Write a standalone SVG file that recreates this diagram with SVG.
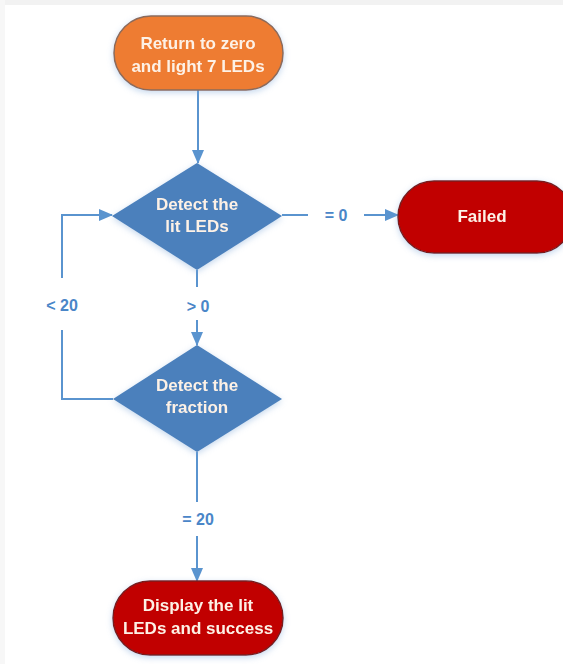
<svg xmlns="http://www.w3.org/2000/svg" width="563" height="664" viewBox="0 0 563 664">
<style>
.conn{fill:none;stroke:#5a94cf;stroke-width:2}
.lbl{font-family:"Liberation Sans",Arial,sans-serif;font-weight:bold;font-size:16px;fill:#4a86c8;text-anchor:middle}
.txt{font-family:"Liberation Sans",Arial,sans-serif;font-weight:bold;font-size:17px;fill:#fdf1e6;text-anchor:middle}
.orange{fill:#ee7c32;stroke:#8c6b5a;stroke-width:1.5}
.red{fill:#c10000;stroke:#7a1d1d;stroke-width:1.5}
.dia{fill:#4b80bc}
</style>
<defs>
<marker id="ah" markerWidth="14" markerHeight="12" refX="13" refY="6" orient="auto" markerUnits="userSpaceOnUse">
<path d="M0,0 L14,6 L0,12 Z" fill="#5a94cf"/>
</marker>
<filter id="sh" x="-20%" y="-20%" width="140%" height="150%">
<feDropShadow dx="0" dy="2" stdDeviation="3" flood-color="#7fa8d8" flood-opacity="0.45"/>
</filter>
</defs>
<rect x="0" y="0" width="563" height="664" fill="#ffffff"/>
<rect x="0" y="0" width="563" height="5" fill="#f2f2f2"/>
<rect x="0" y="0" width="5" height="664" fill="#f7f7f7"/>
<g id="connectors">
<path class="conn" d="M198,90 L198,163" marker-end="url(#ah)"/>
<path class="conn" d="M282,215 L308,215"/>
<path class="conn" d="M364,215 L398,215" marker-end="url(#ah)"/>
<path class="conn" d="M197,270 L197,287"/>
<path class="conn" d="M197,320 L197,345" marker-end="url(#ah)"/>
<path class="conn" d="M113,399 L62,399 L62,330"/>
<path class="conn" d="M62,278 L62,215 L112,215" marker-end="url(#ah)"/>
<path class="conn" d="M197,452 L197,502"/>
<path class="conn" d="M197,536 L197,581" marker-end="url(#ah)"/>
<text class="lbl" x="336" y="221">= 0</text>
<text class="lbl" x="198" y="312">&gt; 0</text>
<text class="lbl" x="62" y="311">&lt; 20</text>
<text class="lbl" x="198" y="525">= 20</text>
</g>
<g id="start" filter="url(#sh)">
<rect class="orange" x="114" y="16" width="169" height="74" rx="37" ry="37"/>
<text class="txt" x="198" y="49">Return to zero</text>
<text class="txt" x="198" y="72">and light 7 LEDs</text>
</g>
<g id="detect-lit" filter="url(#sh)">
<polygon class="dia" points="197,163 282,216 197,270 112,216"/>
<text class="txt" x="197" y="210">Detect the</text>
<text class="txt" x="197" y="232">lit LEDs</text>
</g>
<g id="failed" filter="url(#sh)">
<rect class="red" x="398" y="181" width="175" height="72" rx="36" ry="36"/>
<text class="txt" x="482" y="222">Failed</text>
</g>
<g id="detect-fraction" filter="url(#sh)">
<polygon class="dia" points="197,345 282,399 197,452 113,399"/>
<text class="txt" x="197" y="391">Detect the</text>
<text class="txt" x="197" y="413">fraction</text>
</g>
<g id="success" filter="url(#sh)">
<rect class="red" x="113" y="581" width="170" height="74" rx="37" ry="37"/>
<text class="txt" x="198" y="611">Display the lit</text>
<text class="txt" x="198" y="634">LEDs and success</text>
</g>
</svg>
